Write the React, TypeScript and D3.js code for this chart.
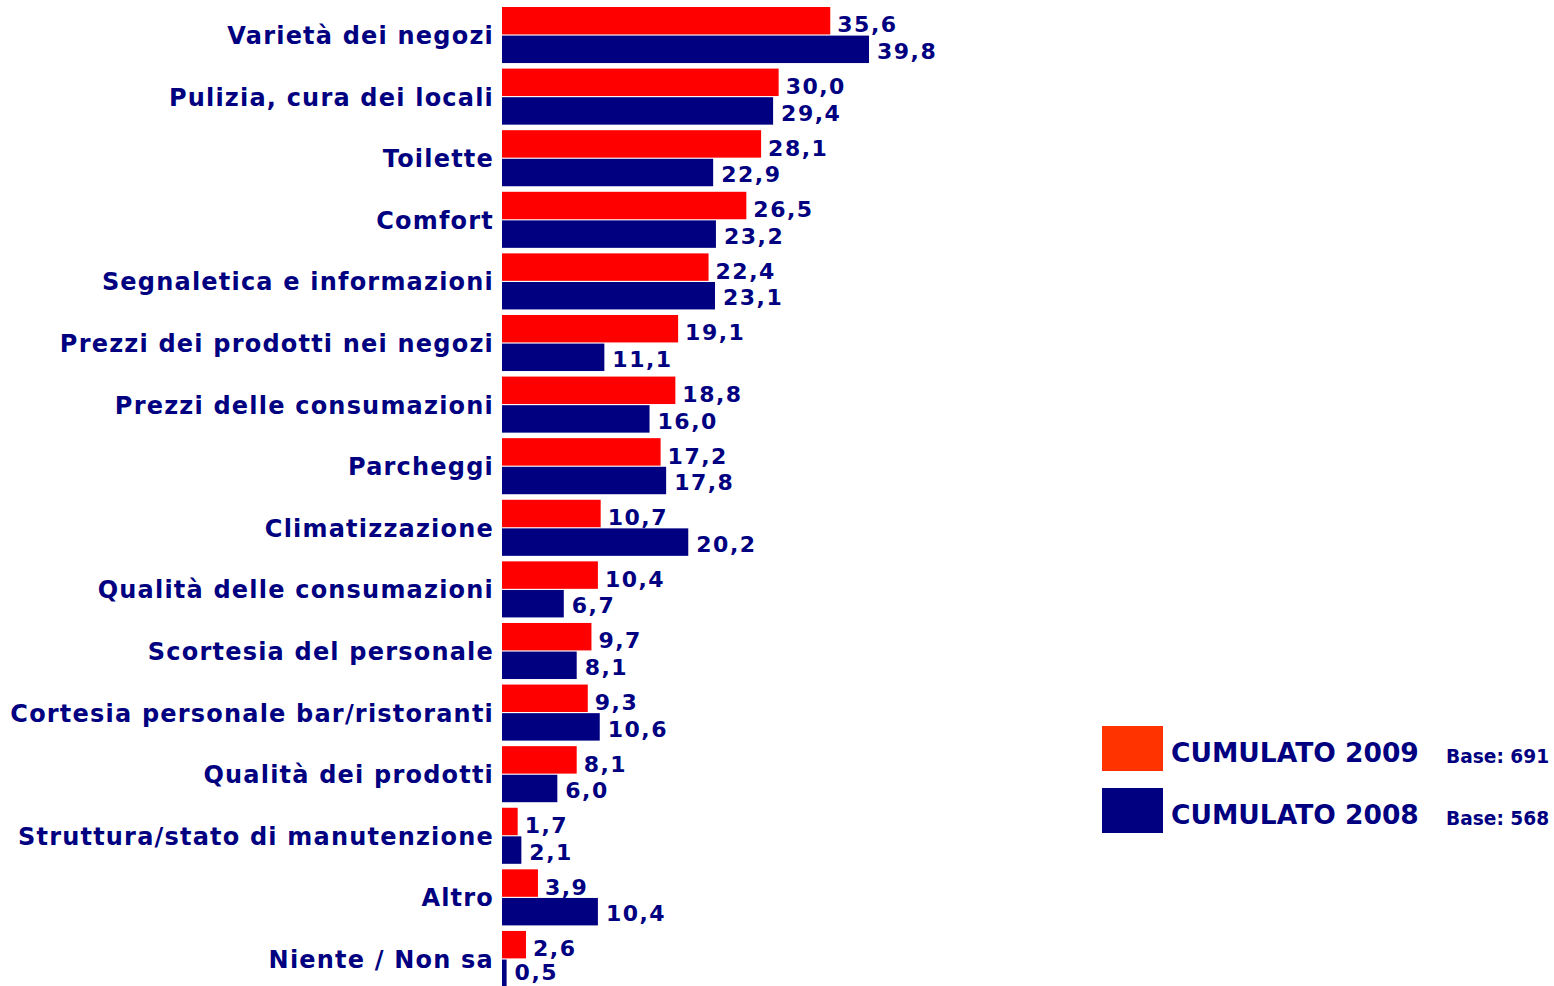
import React, { useEffect, useRef } from 'react';
import * as d3 from 'd3';

const categories = [
  'Varietà dei negozi',
  'Pulizia, cura dei locali',
  'Toilette',
  'Comfort',
  'Segnaletica e informazioni',
  'Prezzi dei prodotti nei negozi',
  'Prezzi delle consumazioni',
  'Parcheggi',
  'Climatizzazione',
  'Qualità delle consumazioni',
  'Scortesia del personale',
  'Cortesia personale bar/ristoranti',
  'Qualità dei prodotti',
  'Struttura/stato di manutenzione',
  'Altro',
  'Niente / Non sa',
];
const values2009 = [35.6, 30.0, 28.1, 26.5, 22.4, 19.1, 18.8, 17.2, 10.7, 10.4, 9.7, 9.3, 8.1, 1.7, 3.9, 2.6];
const values2008 = [39.8, 29.4, 22.9, 23.2, 23.1, 11.1, 16.0, 17.8, 20.2, 6.7, 8.1, 10.6, 6.0, 2.1, 10.4, 0.5];
const seriesNames = ['CUMULATO 2009', 'CUMULATO 2008'];
const seriesBases = ['Base: 691', 'Base: 568'];

const W = 1554;
const H = 986;
const NAVY = '#000080';
const FONT = '"DejaVu Sans", Verdana, sans-serif';

export default function App() {
  const ref = useRef<SVGSVGElement>(null);

  useEffect(() => {
    const svg = d3.select(ref.current);
    svg.selectAll('*').remove();

    const x = d3.scaleLinear().domain([0, 39.8]).range([502, 869]);
    // rows: 56px of bars every 61.6px, starting at y=7
    const y = d3.scaleBand().domain(categories).range([7, 7 + 16 * 61.6 - 5.6]).paddingInner(0.09).paddingOuter(0);
    const sub = d3.scaleBand().domain(['2009', '2008']).range([0, y.bandwidth()]).paddingInner(0.04);

    const rows = categories.map((c, i) => ({ c, a: values2009[i], b: values2008[i] }));
    const fmt = (v: number) => d3.format('.1f')(v).replace('.', ',');

    const row = svg.append('g').selectAll('g.row').data(rows).enter().append('g')
      .attr('class', 'row')
      .attr('transform', d => `translate(0, ${y(d.c)})`);

    row.append('rect')
      .attr('x', x(0)).attr('y', sub('2009')!)
      .attr('width', d => x(d.a) - x(0)).attr('height', sub.bandwidth())
      .attr('fill', '#FF0000');
    row.append('rect')
      .attr('x', x(0)).attr('y', sub('2008')!)
      .attr('width', d => x(d.b) - x(0)).attr('height', sub.bandwidth())
      .attr('fill', NAVY);

    // value labels
    const vals = svg.append('g').selectAll('g').data(rows).enter().append('g')
      .attr('transform', d => `translate(0, ${y(d.c)})`)
      .attr('font-family', FONT).attr('font-weight', 'bold')
      .attr('font-size', 22).attr('letter-spacing', 1.5).attr('fill', NAVY);
    vals.append('text')
      .attr('x', d => x(d.a) + 7)
      .attr('y', sub('2009')! + sub.bandwidth() - 2)
      .text(d => fmt(d.a));
    vals.append('text')
      .attr('x', d => x(d.b) + 8)
      .attr('y', d => Math.min(sub('2008')! + sub.bandwidth() - 4, H - 6 - y(d.c)!))
      .text(d => fmt(d.b));

    // category labels
    row.append('text')
      .attr('x', 494)
      .attr('y', y.bandwidth() / 2 + 9)
      .attr('text-anchor', 'end')
      .attr('font-family', FONT).attr('font-weight', 'bold')
      .attr('font-size', 24).attr('letter-spacing', 1.2).attr('fill', NAVY)
      .text(d => d.c);

    // legend
    const lg = svg.append('g');
    const ly = d3.scaleBand().domain(seriesNames).range([726, 833]).paddingInner(0.274);
    const colors = ['#FF3300', NAVY];
    seriesNames.forEach((s, i) => {
      const top = ly(s)!;
      lg.append('rect').attr('x', 1102).attr('y', top).attr('width', 61).attr('height', ly.bandwidth()).attr('fill', colors[i]);
      lg.append('text').attr('x', 1171).attr('y', top + ly.bandwidth() / 2 + 13.5)
        .attr('font-family', FONT).attr('font-weight', 'bold').attr('font-size', 26.5).attr('fill', NAVY)
        .text(s);
      lg.append('text').attr('x', 1446).attr('y', top + ly.bandwidth() / 2 + 14.5)
        .attr('font-family', FONT).attr('font-weight', 'bold').attr('font-size', 18.6).attr('fill', NAVY)
        .text(seriesBases[i]);
    });
  }, []);

  return (
    <div style={{ position: 'fixed', left: 0, top: 0, background: '#fff' }}>
      <svg ref={ref} width={W} height={H} style={{ display: 'block' }} />
    </div>
  );
}
